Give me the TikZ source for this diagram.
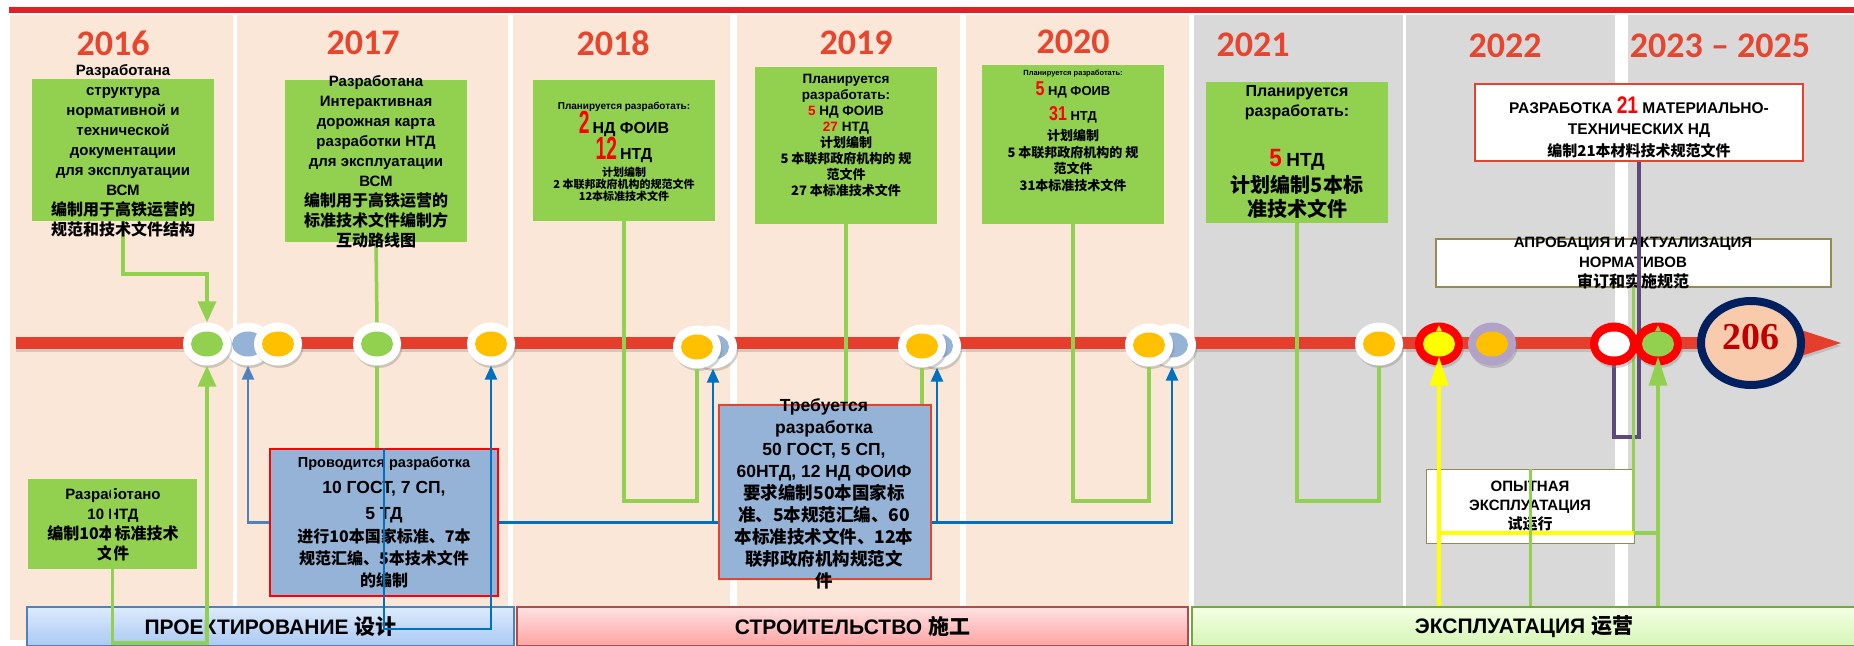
\documentclass[tikz,border=0pt]{standalone}
\usepackage{fontspec}
\usepackage{graphicx}
\setmainfont{Liberation Sans}
\newfontfamily\cjk{Noto Sans CJK SC}
\newfontfamily\yrf{Carlito}
\newfontfamily\tnr{Liberation Serif}
\usetikzlibrary{shapes.geometric,arrows.meta,shadows}
\newcommand\fs[2]{\fontsize{#1}{#2}\selectfont}
\newcommand\zh[2]{{\cjk\fontsize{#1}{#1}\selectfont #2}}
\newcommand\rn[3]{{\fontsize{#1}{#1}\selectfont\color{red}\scalebox{#2}[1]{#3}}}
\lineskiplimit=-100pt
\definecolor{peach}{HTML}{FBE7D7}
\definecolor{greyc}{HTML}{D9D9D9}
\definecolor{grn}{HTML}{92D050}
\definecolor{bluebox}{HTML}{95B3D7}
\definecolor{blueln}{HTML}{0070C0}
\definecolor{bluel2}{HTML}{4F81BD}
\definecolor{barred}{HTML}{E53E2D}
\definecolor{topred}{HTML}{E31E24}
\definecolor{yearred}{HTML}{E8452F}
\definecolor{ylw}{HTML}{FFC000}
\definecolor{yel}{HTML}{FFFF00}
\definecolor{purp}{HTML}{5F497A}
\definecolor{lav}{HTML}{B3A2C7}
\definecolor{navy}{HTML}{002060}
\definecolor{salmon}{HTML}{F8CBAD}
\definecolor{olive}{HTML}{948A54}
\definecolor{dred}{HTML}{C00000}
\definecolor{boxred}{HTML}{E8412E}
\definecolor{pbtop}{HTML}{DDEBFD}
\definecolor{pbbot}{HTML}{A9C9F3}
\definecolor{sbtop}{HTML}{FFE2E2}
\definecolor{sbbot}{HTML}{FFA3A3}
\definecolor{ebtop}{HTML}{F3FFE4}
\definecolor{ebbot}{HTML}{D6F5B5}
\begin{document}
\begin{tikzpicture}[x=1pt,y=-1pt,
  gbox/.style={fill=grn, inner sep=0pt, outer sep=0pt},
  txt/.style={align=center, inner sep=0pt, outer sep=0pt},
  year/.style={inner sep=0pt, text=yearred, font=\yrf\bfseries\fs{36}{36}},
  circ/.style={ellipse, minimum width=48pt, minimum height=43pt, inner sep=0pt, fill=white,
     drop shadow={shadow xshift=1.5pt, shadow yshift=-2.5pt, opacity=0.35}},
  inn/.style={ellipse, minimum width=32pt, minimum height=25pt, inner sep=0pt},
  gline/.style={draw=grn, line width=3.5pt},
  bline/.style={draw=blueln, line width=2.5pt},
  garrow/.style={-{Triangle[width=18pt,length=21pt]}},
  larrow/.style={-{Triangle[width=18pt,length=29pt]}},
  barr/.style={-{Triangle[width=12pt,length=14pt]}},
  phase/.style={draw, line width=1.2pt, inner sep=0pt, font=\bfseries\fs{21}{21}, minimum height=39pt}
]
\useasboundingbox (0,0) rectangle (1854,645);
\fill[white] (0,0) rectangle (1854,645);
% columns
\fill[peach] (10,15) rectangle (233,640);
\fill[peach] (237,15) rectangle (508,640);
\fill[peach] (513,15) rectangle (730,640);
\fill[peach] (737,15) rectangle (960,640);
\fill[peach] (966,15) rectangle (1189,640);
\fill[greyc] (1194,15) rectangle (1403,640);
\fill[greyc] (1406,15) rectangle (1615,640);
\fill[greyc] (1628,15) rectangle (1854,640);
% top line
\fill[topred] (9,7) rectangle (1854,13);
% years
\node[year] (y16) at (113,43) {2016};
\node[year] (y17) at (363,43) {2017};
\node[year] (y18) at (613,43) {2018};
\node[year] (y19) at (856,43) {2019};
\node[year] (y20) at (1073,42) {2020};
\node[year] (y21) at (1253,45) {2021};
\node[year] (y22) at (1505,46) {2022};
\node[year] (y23) at (1720,46) {2023 – 2025};
% timeline bar
\fill[barred, drop shadow={shadow xshift=0pt, shadow yshift=-3pt, opacity=0.3}] (16,337) rectangle (1805,349);
\fill[barred, drop shadow={shadow xshift=0pt, shadow yshift=-3pt, opacity=0.3}] (1798,329) -- (1841,343) -- (1798,357) -- cycle;
% green boxes top
\node[gbox, minimum width=182pt, minimum height=142pt] (b16) at (123,150) {};
\node[gbox, minimum width=182pt, minimum height=162pt] (b17) at (376,161) {};
\node[gbox, minimum width=182pt, minimum height=141pt] (b18) at (624,150.5) {};
\node[gbox, minimum width=182pt, minimum height=157pt] (b19) at (846,145.5) {};
\node[gbox, minimum width=182pt, minimum height=159pt] (b20) at (1073,144.5) {};
\node[gbox, minimum width=182pt, minimum height=141pt] (b21) at (1297,152.5) {};
\node[draw=boxred, line width=2pt, fill=white, minimum width=328pt, minimum height=77pt, inner sep=0pt] (rb) at (1639,122.5) {};
\node[draw=olive, line width=2pt, fill=white, minimum width=395pt, minimum height=48pt, inner sep=0pt] (ap) at (1633.5,263) {};
\node[draw=olive, line width=1.5pt, fill=white, minimum width=208pt, minimum height=74pt, inner sep=0pt] (op) at (1530.5,506.5) {};
\node[draw=red, line width=2pt, fill=bluebox, minimum width=228pt, minimum height=147pt, inner sep=0pt] (pr) at (384,522.5) {};
\node[gbox, minimum width=169pt, minimum height=90pt] (rz) at (112.5,524) {};
% phases
\node[phase, draw=bluel2, top color=pbtop, bottom color=pbbot, minimum width=487pt] (pb) at (270.5,626.5) {ПРОЕКТИРОВАНИЕ \zh{21}{设计}};
\node[phase, draw=red!55!black!70, top color=sbtop, bottom color=sbbot, minimum width=671pt] (sb) at (852.5,626.5) {СТРОИТЕЛЬСТВО \zh{21}{施工}};
\node[phase, draw=grn!80!black, top color=ebtop, bottom color=ebbot, minimum width=664pt] (eb) at (1524,626.5) {ЭКСПЛУАТАЦИЯ \zh{21}{运营}};
% texts in boxes
\node[txt, font=\bfseries\fs{11}{12}] (t18) at (624,152) {{\fs{10}{12}Планируется разработать:}\\[12pt]\rn{32}{0.6}{2} {\fs{16}{16}НД ФОИВ}\\[14pt]\rn{32}{0.6}{12} {\fs{16}{16}НТД}\\[5.5pt]\zh{11}{计划编制}\\\zh{11}{2 本联邦政府机构的规范文件}\\\zh{11}{12本标准技术文件}};
\node[txt, font=\bfseries\fs{13.5}{16}] (t19) at (846,135) {Планируется\\разработать:\\\textcolor{red}{5} НД ФОИВ\\\textcolor{red}{27} НТД\\\zh{13}{计划编制}\\\zh{13}{5 本联邦政府机构的 规}\\\zh{13}{范文件}\\\zh{13}{27 本标准技术文件}};
\node[txt, font=\bfseries\fs{13}{16.5}] (t20) at (1073,131) {{\fs{7.5}{9}Планируется разработать:}\\[3.5pt]\rn{20}{0.8}{5} НД ФОИВ\\[8.5pt]\rn{20}{0.8}{31} НТД\\[3.5pt]\zh{13}{计划编制}\\\zh{13}{5 本联邦政府机构的 规}\\\zh{13}{范文件}\\\zh{13}{31本标准技术文件}};
\node[txt, font=\bfseries\fs{16}{20}] (t21) at (1297,152) {Планируется\\разработать:\\[30pt]\rn{25}{0.9}{5} {\fs{19}{19}НТД}\\[6pt]\zh{20}{计划编制5本标}\\[4pt]\zh{20}{准技术文件}};
\node[txt, font=\bfseries\fs{15.5}{21.5}] (trb) at (1639,127) {РАЗРАБОТКА \rn{24}{0.8}{21} МАТЕРИАЛЬНО-\\ТЕХНИЧЕСКИХ НД\\\zh{15}{编制21本材料技术规范文件}};
\node[txt, font=\bfseries\fs{15}{20}] (tap) at (1633,263) {АПРОБАЦИЯ И АКТУАЛИЗАЦИЯ\\НОРМАТИВОВ\\\zh{16}{审订和实施规范}};
\node[txt, font=\bfseries\fs{15}{19}] (top) at (1530,506) {ОПЫТНАЯ\\ЭКСПЛУАТАЦИЯ\\\zh{15}{试运行}};
\node[txt, font=\bfseries\fs{14.5}{22}] (tpr) at (384,522) {Проводится разработка\\[4pt]{\fs{17.5}{17.5}10 ГОСТ, 7 СП,}\\[4pt]{\fs{17.5}{17.5}5 ТД}\\[1pt]\zh{16}{进行10本国家标准、7本}\\\zh{16}{规范汇编、5本技术文件}\\\zh{16}{的编制}};
\node[txt, font=\bfseries\fs{15}{20}] (trz) at (113,525) {Разработано\\10 НТД\\\zh{16}{编制10本标准技术}\\\zh{16}{文件}};
% circles
\node[circ] (c2) at (248,344) {}; \node[inn, fill=bluebox] (c2i) at (c2) {};
\node[circ] (c1) at (207,344) {}; \node[inn, fill=grn] (c1i) at (c1) {};
\node[circ] (c3) at (278,344) {}; \node[inn, fill=ylw] (c3i) at (c3) {};
\node[circ] (c4) at (377,344) {}; \node[inn, fill=grn] (c4i) at (c4) {};
\node[circ] (c5) at (491,344) {}; \node[inn, fill=ylw] (c5i) at (c5) {};
\node[circ] (c6b) at (713,347) {}; \node[inn, fill=bluebox] (c6bi) at (c6b) {};
\node[circ] (c6y) at (697,347) {}; \node[inn, fill=ylw] (c6yi) at (c6y) {};
\node[circ] (c7b) at (937,346) {}; \node[inn, fill=bluebox] (c7bi) at (c7b) {};
\node[circ] (c7y) at (922,346) {}; \node[inn, fill=ylw] (c7yi) at (c7y) {};
\node[circ] (c8b) at (1172,345) {}; \node[inn, fill=bluebox] (c8bi) at (c8b) {};
\node[circ] (c8y) at (1149,345) {}; \node[inn, fill=ylw] (c8yi) at (c8y) {};
\node[circ] (c9) at (1379,344) {}; \node[inn, fill=ylw] (c9i) at (c9) {};
\node[circ, fill=red] (c10) at (1439,344) {}; \node[inn, fill=yel] (c10i) at (c10) {};
\node[circ, fill=lav] (c11) at (1492,344) {}; \node[inn, fill=ylw] (c11i) at (c11) {};
% connectors
\draw[gline, garrow] (b16.south) -- (b16.south |- 0,274) -- (c1.north |- 0,274) -- (c1.north);
\draw[gline, garrow] (rz.north) -- (rz.south |- 0,643) -- (c1.south |- 0,643) -- (c1.south);
\draw[gline] (b17.south) -- (c4.north);
\draw[gline] (c4.south) -- (c4.south |- pr.north);
\draw[draw=bluel2, line width=2.5pt, barr] (pr.west) -- (c2.south |- pr.west) -- (c2.south);
\draw[bline, barr] (pr.north) -- (pr.north |- 0,629) -- (c5.south |- 0,629) -- (c5.south);
\draw[gline] (b18.south) -- (b18.south |- 0,501) -- (c6y.south |- 0,501) -- (c6y.south);
\draw[gline] (b19.south) -- (b19.south |- 0,501) -- (c7y.south |- 0,501) -- (c7y.south);
\draw[gline] (b20.south) -- (b20.south |- 0,501) -- (c8y.south |- 0,501) -- (c8y.south);
\draw[gline] (b21.south) -- (b21.south |- 0,501) -- (c9.south |- 0,501) -- (c9.south);
% Требуется box over the green lines
\node[draw=boxred, line width=2pt, fill=bluebox, minimum width=212pt, minimum height=174pt, inner sep=0pt] (tr) at (825,492) {};
\node[txt, font=\bfseries\fs{17.5}{22}] (ttr) at (824,494) {Требуется\\разработка\\50 ГОСТ, 5 СП,\\60НТД, 12 НД ФОИФ\\\zh{17.5}{要求编制50本国家标}\\\zh{17.5}{准、5本规范汇编、60}\\\zh{17.5}{本标准技术文件、12本}\\\zh{17.5}{联邦政府机构规范文}\\\zh{17.5}{件}};
\draw[bline] (pr.east) -- (tr.west |- pr.east);
\draw[bline, barr] (c6b.south |- pr.east) -- (c6b.south);
\draw[bline, barr] (tr.east |- pr.east) -- (c8b.south |- pr.east) -- (c8b.south);
\draw[bline, barr] (c7b.south |- pr.east) -- (c7b.south);
\draw[draw=purp, line width=3.5pt] (rb.south) -- (rb.south |- 0,437) -- (1614,437) -- (1614,360);
\draw[gline] (ap.south) -- (ap.south |- 0,533) -- (1658,533);
\draw[draw=yel, line width=3.5pt] (1439,533) -- (ap.south |- 0,533);
\draw[gline] (op.north) -- (op.north |- eb.north);
% right circles
\node[circ, fill=red] (c12) at (1614,344) {}; \node[inn, fill=white] (c12i) at (c12) {};
\node[circ, fill=red] (c13) at (1658,344) {}; \node[inn, fill=grn] (c13i) at (c13) {};
\fill[yel] ([xshift=-3pt]c10i.north) -- ([yshift=6pt]c10i.north) -- ([xshift=3pt]c10i.north) -- cycle;
\fill[grn] ([xshift=-3pt]c13i.north) -- ([yshift=6pt]c13i.north) -- ([xshift=3pt]c13i.north) -- cycle;
\draw[draw=yel, line width=3.5pt, larrow] (eb.north -| c10.south) -- (c10i.south);
\draw[gline, larrow] (eb.north -| c13.south) -- (c13i.south);
% big circle
\node[ellipse, draw=navy, line width=8pt, fill=salmon, minimum width=100pt, minimum height=84pt, inner sep=0pt,
  drop shadow={shadow xshift=2pt, shadow yshift=-3pt, opacity=0.35}] (big) at (1751,343) {};
\node[inner sep=0pt, text=dred, font=\tnr\bfseries\fs{38}{38}] (t206) at (1751,337) {206};
% top texts
\node[txt, font=\bfseries\fs{15}{20}] (t16) at (123,151) {Разработана\\структура\\нормативной и\\технической\\документации\\для эксплуатации\\ВСМ\\\zh{16}{编制用于高铁运营的}\\\zh{16}{规范和技术文件结构}};
\node[txt, font=\bfseries\fs{15}{20}] (t17) at (376,162) {Разработана\\Интерактивная\\дорожная карта\\разработки НТД\\для эксплуатации\\ВСМ\\\zh{16}{编制用于高铁运营的}\\\zh{16}{标准技术文件编制方}\\\zh{16}{互动路线图}};
\end{tikzpicture}
\end{document}
